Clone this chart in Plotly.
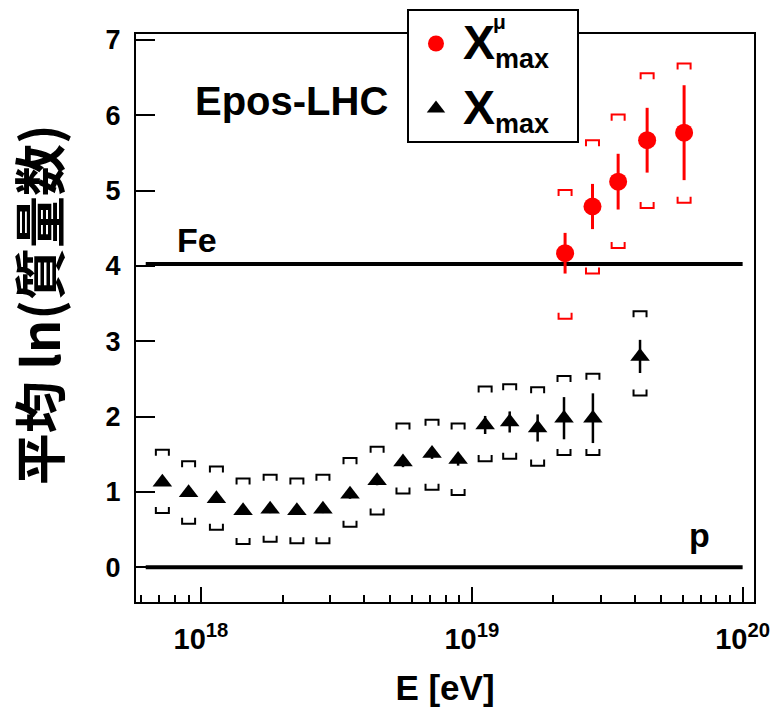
import math
import plotly.graph_objects as go

# ---------------- data ----------------
# <ln A> from Xmax (black triangles)
E_xmax = [7.2e17, 9.0e17, 1.14e18, 1.43e18, 1.80e18, 2.26e18, 2.82e18, 3.55e18, 4.47e18,
          5.57e18, 7.13e18, 8.9e18, 1.12e19, 1.38e19, 1.75e19, 2.19e19, 2.80e19, 4.18e19]
lnA_xmax = [1.13, 0.99, 0.91, 0.75, 0.77, 0.75, 0.77, 0.97, 1.15,
            1.40, 1.51, 1.43, 1.89, 1.93, 1.85, 1.98, 1.98, 2.80]
stat_xmax = [0.05, 0.05, 0.05, 0.05, 0.05, 0.05, 0.05, 0.06, 0.06,
             0.07, 0.07, 0.08, 0.12, 0.14, 0.18, 0.28, 0.33, 0.22]
sysup_xmax = [1.56, 1.41, 1.34, 1.18, 1.23, 1.18, 1.23, 1.45, 1.60,
              1.91, 1.96, 1.91, 2.40, 2.43, 2.39, 2.54, 2.57, 3.40]
syslo_xmax = [0.72, 0.58, 0.50, 0.31, 0.34, 0.32, 0.32, 0.54, 0.70,
              0.98, 1.03, 0.96, 1.41, 1.44, 1.35, 1.49, 1.49, 2.28]

# <ln A> from Xmax^mu (red circles)
E_mu = [2.21e19, 2.79e19, 3.47e19, 4.44e19, 6.08e19]
lnA_mu = [4.17, 4.79, 5.12, 5.67, 5.77]
stat_mu = [0.27, 0.30, 0.37, 0.43, 0.63]
sysup_mu = [5.01, 5.67, 6.01, 6.56, 6.69]
syslo_mu = [3.30, 3.90, 4.24, 4.77, 4.84]

# reference lines
LNA_FE = math.log(56)
LNA_P = 0.0
LINE_E = [6.25e17, 1.0e20]

x_tickvals = [1e18, 1e19, 1e20]
x_ticktext = ["10<sup>18</sup>", "10<sup>19</sup>", "10<sup>20</sup>"]
x_minorvals = [m * 10.0 ** p for p in (17, 18, 19) for m in range(2, 10)]
y_tickvals = [0, 1, 2, 3, 4, 5, 6, 7]

# ---------------- styling ----------------
FONT = "Liberation Sans"
RED = "#ff0000"
HW = 0.024  # bracket half width (decades)
BH = 0.08   # bracket leg height (lnA units)
LEG_NAME = ("<span style='font-size:48px'>X</span>"
            "<sub><span style='font-size:27px'>max</span></sub>\u00a0\u00a0")


def brackets(E, ys, up):
    xs, yv = [], []
    for e, y in zip(E, ys):
        l = e * 10 ** (-HW)
        r = e * 10 ** HW
        yb = y - BH if up else y + BH
        xs += [l, l, r, r, None]
        yv += [yb, y, y, yb, None]
    return xs, yv


fig = go.Figure()

# reference lines
for val in (LNA_FE, LNA_P):
    fig.add_trace(go.Scatter(x=LINE_E, y=[val, val], mode="lines",
                             line=dict(color="black", width=4),
                             showlegend=False, hoverinfo="skip"))

# systematic brackets
for E, up_vals, lo_vals, col in ((E_xmax, sysup_xmax, syslo_xmax, "black"),
                                 (E_mu, sysup_mu, syslo_mu, RED)):
    for vals, up in ((up_vals, True), (lo_vals, False)):
        bx, by = brackets(E, vals, up)
        fig.add_trace(go.Scatter(x=bx, y=by, mode="lines",
                                 line=dict(color=col, width=2),
                                 showlegend=False, hoverinfo="skip"))

fig.add_trace(go.Scatter(
    x=E_mu, y=lnA_mu, mode="markers", name=LEG_NAME,
    legendgroup="mu",
    marker=dict(symbol="circle", size=18, color=RED),
    error_y=dict(type="data", array=stat_mu, width=0, thickness=3, color=RED)))

fig.add_trace(go.Scatter(
    x=E_xmax, y=lnA_xmax, mode="markers", name=LEG_NAME,
    legendgroup="xmax",
    marker=dict(symbol="triangle-up", size=17, color="black"),
    error_y=dict(type="data", array=stat_xmax, width=0, thickness=2.5, color="black")))

fig.update_layout(
    width=776, height=714,
    margin=dict(l=136, r=22, t=34, b=112, autoexpand=False),
    paper_bgcolor="white", plot_bgcolor="white",
    font=dict(family=FONT, color="black"),
    showlegend=True,
    legend=dict(x=0.4385, y=1.044, xanchor="left", yanchor="top",
                bgcolor="white", bordercolor="black", borderwidth=2,
                font=dict(family=FONT, size=40, weight="bold"),
                tracegroupgap=10, itemsizing="trace", itemwidth=44),
    xaxis=dict(type="log", range=[17.760, 20.042],
               tickmode="array", tickvals=x_tickvals, ticktext=x_ticktext,
               ticks="inside", ticklen=15, tickwidth=2, tickcolor="black",
               showline=True, linecolor="black", linewidth=2, mirror=True,
               showgrid=False, zeroline=False,
               tickfont=dict(family=FONT, size=29, weight="bold"),
               ticklabelstandoff=10,
               minor=dict(tickvals=x_minorvals,
                          ticks="inside", ticklen=7, tickwidth=2, tickcolor="black",
                          showgrid=False),
               title=dict(text="E [eV]", font=dict(family=FONT, size=35, weight="bold"),
                          standoff=22)),
    yaxis=dict(range=[-0.46, 7.08],
               tickmode="array", tickvals=y_tickvals,
               ticks="inside", ticklen=19, tickwidth=2, tickcolor="black",
               showline=True, linecolor="black", linewidth=2, mirror=True,
               showgrid=False, zeroline=False,
               tickfont=dict(family=FONT, size=27, weight="bold"),
               ticklabelstandoff=8),
    annotations=[
        dict(text="平均 ln(質量数)", x=-0.158, y=0.523, xref="paper", yref="paper",
             xanchor="center", yanchor="middle", textangle=-90, showarrow=False,
             font=dict(family="Noto Sans CJK JP", size=52, weight="bold")),
        dict(text="Epos-LHC", x=0.093, y=0.882, xref="paper", yref="paper",
             xanchor="left", yanchor="middle", showarrow=False,
             font=dict(family=FONT, size=40, weight="bold")),
        dict(text="Fe", x=0.063, y=0.638, xref="paper", yref="paper",
             xanchor="left", yanchor="middle", showarrow=False,
             font=dict(family=FONT, size=34, weight="bold")),
        dict(text="p", x=0.892, y=0.118, xref="paper", yref="paper",
             xanchor="left", yanchor="middle", showarrow=False,
             font=dict(family=FONT, size=34, weight="bold")),
        dict(text="μ", x=0.575, y=1.0215, xref="paper", yref="paper",
             xanchor="left", yanchor="middle", showarrow=False,
             font=dict(family=FONT, size=21, weight="bold")),
    ],
)

fig.write_html("out.html")
